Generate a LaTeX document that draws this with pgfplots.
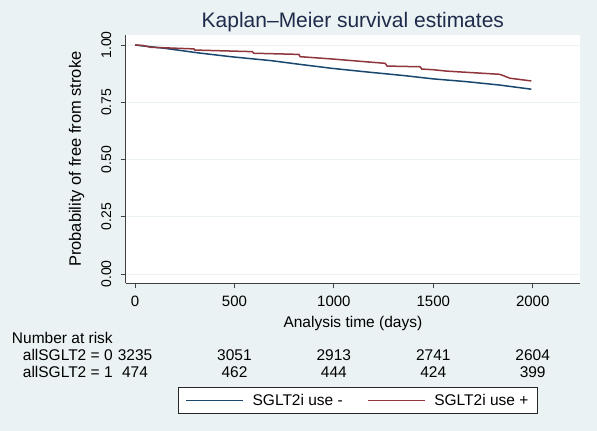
\documentclass[border=0pt]{standalone}
\usepackage{fontspec}
\setmainfont{Liberation Sans}
\usepackage{pgfplots}
\pgfplotsset{compat=1.18}
\definecolor{bgc}{HTML}{EAF2F3}
\definecolor{gridc}{HTML}{EAF2F3}
\definecolor{kmblue}{HTML}{1A476F}
\definecolor{kmred}{HTML}{90353B}
\definecolor{titc}{HTML}{1E2B4B}
\newcommand{\fz}{\fontsize{15.5}{18}\selectfont}
\begin{document}
\begin{tikzpicture}[x=1pt,y=1pt]
\fill[bgc] (0,0) rectangle (597,431);
\useasboundingbox (0,0) rectangle (597,431);
\begin{axis}[
  at={(125.7pt,147.7pt)}, anchor=south west,
  scale only axis, width=454.3pt, height=248.3pt,
  xmin=-47, xmax=2238, ymin=-0.0406, ymax=1.0437,
  clip=false,
  axis x line*=bottom, axis y line*=left,
  axis line style={draw=black!75, line width=0.8pt, -},
  axis background/.style={fill=white},
  xtick={0,500,1000,1500,2000},
  ytick={0,0.25,0.5,0.75,1},
  ymajorgrids, grid style={gridc, line width=0.8pt},
  tick align=outside, major tick length=5pt,
  tick style={black!75, line width=0.8pt},
  /pgf/number format/assume math mode=true,
  xticklabel style={font=\fontsize{15}{18}\selectfont, yshift=-4.5pt, /pgf/number format/1000 sep={}},
  yticklabel style={font=\fontsize{14}{17}\selectfont, rotate=90, anchor=south, yshift=6pt,
     /pgf/number format/.cd, fixed, fixed zerofill, precision=2},
  title={Kaplan–Meier survival estimates},
  title style={font=\fontsize{21}{24}\selectfont, text=titc, at={(0.5,1)}, anchor=base, yshift=1.5pt},
  xlabel={Analysis time (days)},
  xlabel style={font=\fz, at={(axis description cs:0.5,0)}, anchor=base, yshift=-43.9pt},
  ylabel={Probability of free from stroke},
  ylabel style={font=\fontsize{16.5}{19}\selectfont, at={(axis description cs:0,0.5)}, anchor=base, yshift=44.7pt},
  legend columns=2,
  legend cell align=left,
  legend style={at={(0.1158,-0.4164)}, anchor=north west, draw=black!85, line width=0.7pt,
     fill=white, inner xsep=6.5pt, inner ysep=5pt, font=\fz,
     /tikz/every odd column/.append style={column sep=7pt},
     /tikz/every even column/.append style={column sep=22pt}},
  legend image code/.code={\draw[#1] (0pt,0pt) -- (57pt,0pt);},
]
\addplot[kmblue, line width=1.5pt] coordinates {
 (0,1.000) (50,0.995) (146,0.986) (314,0.966) (481,0.949) (657,0.934) (682,0.932)
 (824,0.916) (991,0.898) (1158,0.883) (1358,0.866) (1500,0.852) (1667,0.840)
 (1835,0.825) (1993,0.807)};
\addlegendentry{SGLT2i use -}
\addplot[kmred, line width=1.5pt] coordinates {
 (0,1.000) (40,0.998) (80,0.990) (296,0.983) (300,0.978) (590,0.971) (597,0.964)
 (824,0.959) (830,0.949) (991,0.939) (1158,0.927) (1258,0.920) (1268,0.908)
 (1434,0.905) (1442,0.895) (1500,0.892) (1567,0.886) (1835,0.872) (1885,0.855)
 (1993,0.843)};
\addlegendentry{SGLT2i use +\hspace{44pt}}
\node[anchor=west, inner sep=0, font=\fz] at (axis cs:-620,-0.2782) {Number at risk};
\node[anchor=west, inner sep=0, font=\fz] at (axis cs:-565,-0.3537) {allSGLT2 = 0};
\node[anchor=west, inner sep=0, font=\fz] at (axis cs:-565,-0.4266) {allSGLT2 = 1};
\node[inner sep=0, font=\fz] at (axis cs:0,-0.3537) {3235};
\node[inner sep=0, font=\fz] at (axis cs:500,-0.3537) {3051};
\node[inner sep=0, font=\fz] at (axis cs:1000,-0.3537) {2913};
\node[inner sep=0, font=\fz] at (axis cs:1500,-0.3537) {2741};
\node[inner sep=0, font=\fz] at (axis cs:2000,-0.3537) {2604};
\node[inner sep=0, font=\fz] at (axis cs:0,-0.4266) {474};
\node[inner sep=0, font=\fz] at (axis cs:500,-0.4266) {462};
\node[inner sep=0, font=\fz] at (axis cs:1000,-0.4266) {444};
\node[inner sep=0, font=\fz] at (axis cs:1500,-0.4266) {424};
\node[inner sep=0, font=\fz] at (axis cs:2000,-0.4266) {399};
\end{axis}
\end{tikzpicture}
\end{document}
